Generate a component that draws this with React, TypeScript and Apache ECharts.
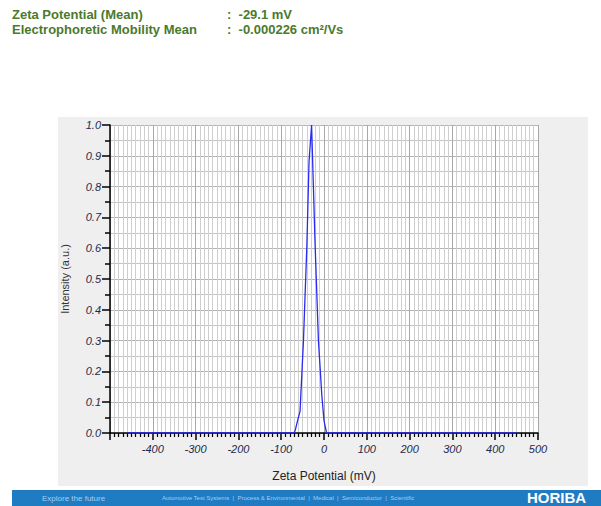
import React, { useEffect, useRef } from "react";
import * as echarts from "echarts";

const zetaMv: number[] = [-460, -70, -67, -60, -56, -48, -40, -35, -29, -21, -13, -5, 0, 6, 450];
const intensity: number[] = [0, 0, 0.01, 0.05, 0.07, 0.3, 0.61, 0.88, 1.0, 0.62, 0.3, 0.12, 0.04, 0, 0];
const headerLabels: string[] = ["Zeta Potential (Mean)", "Electrophoretic Mobility Mean"];
const headerValues: string[] = [":  -29.1 mV", ":  -0.000226 cm\u00b2/Vs"];

export default function App() {
  const ref = useRef<HTMLDivElement>(null);
  useEffect(() => {
    if (!ref.current) return;
    const chart = echarts.init(ref.current, undefined, { renderer: "svg" });
    const green = "#4a7a2c";
    const labelColor = "#1e2a4c";
    chart.setOption({
      animation: false,
      backgroundColor: "#ffffff",
      graphic: [
        { type: "rect", z: -10, shape: { x: 58, y: 117, width: 530, height: 369 }, style: { fill: "#efefef" } },
        { type: "rect", z: -10, shape: { x: 12, y: 490, width: 589, height: 16 }, style: { fill: "#1f7bc2" } },
        ...headerLabels.map((t, i) => ({
          type: "text", left: 12, top: 8 + i * 15,
          style: { text: t, fill: green, font: "bold 13px 'Liberation Sans', Arial, sans-serif" },
        })),
        ...headerValues.map((t, i) => ({
          type: "text", left: 227, top: 8 + i * 15,
          style: { text: t, fill: green, font: "bold 13px 'Liberation Sans', Arial, sans-serif" },
        })),
        { type: "text", left: 42, top: 494, style: { text: "Explore the future", fill: "#a9cdf0", font: "8px 'Liberation Sans', Arial, sans-serif" } },
        { type: "text", left: 162, top: 495, style: { text: "Automotive Test Systems  |  Process & Environmental  |  Medical  |  Semiconductor  |  Scientific", fill: "#a9cdf0", font: "6px 'Liberation Sans', Arial, sans-serif" } },
        { type: "text", left: 527, top: 490, style: { text: "HORIBA", fill: "#ffffff", font: "bold 15px 'Liberation Sans', Arial, sans-serif" } },
      ],
      grid: { left: 110, top: 125, right: 63, bottom: 73, show: true, backgroundColor: "#ffffff", borderWidth: 0 },
      xAxis: {
        type: "value", min: -500, max: 500, interval: 100,
        name: "Zeta Potential (mV)", nameLocation: "middle", nameGap: 37,
        nameTextStyle: { color: "#222", fontSize: 12, fontFamily: "'Liberation Sans', Arial, sans-serif" },
        axisLine: { show: true, onZero: false, lineStyle: { color: "#000", width: 1.5 } },
        axisTick: { show: true, length: 7, lineStyle: { color: "#000", width: 1.5 } },
        minorTick: { show: true, splitNumber: 10, length: 4, lineStyle: { color: "#000", width: 1.2 } },
        axisLabel: {
          margin: 10, fontSize: 11, fontStyle: "italic", color: labelColor,
          fontFamily: "'Liberation Sans', Arial, sans-serif",
          formatter: (v: number) => (v === -500 ? "" : String(v)),
        },
        splitLine: { show: true, lineStyle: { color: "#a8a8a8", width: 1 } },
        minorSplitLine: { show: true, lineStyle: { color: "#cfcfcf", width: 1 } },
      },
      yAxis: {
        type: "value", min: 0, max: 1, interval: 0.1,
        name: "Intensity (a.u.)", nameLocation: "middle", nameGap: 40,
        nameTextStyle: { color: "#333", fontSize: 11, fontFamily: "'Liberation Sans', Arial, sans-serif" },
        axisLine: { show: true, onZero: false, lineStyle: { color: "#000", width: 1.5 } },
        axisTick: { show: true, length: 8, lineStyle: { color: "#000", width: 1.5 } },
        minorTick: { show: true, splitNumber: 2, length: 5, lineStyle: { color: "#000", width: 1.5 } },
        axisLabel: {
          margin: 9, fontSize: 11, fontStyle: "italic", color: labelColor,
          fontFamily: "'Liberation Sans', Arial, sans-serif",
          formatter: (v: number) => v.toFixed(1),
        },
        splitLine: { show: true, lineStyle: { color: "#b4b4b4", width: 1 } },
        minorSplitLine: { show: true, lineStyle: { color: "#c4c4c4", width: 1 } },
      },
      series: [
        {
          type: "line",
          data: zetaMv.map((x, i) => [x, intensity[i]]),
          showSymbol: false,
          lineStyle: { color: "#2a2af0", width: 1.3 },
          z: 5,
        },
      ],
    });
    return () => chart.dispose();
  }, []);
  return <div ref={ref} style={{ position: "fixed", left: 0, top: 0, width: 601, height: 506 }} />;
}
